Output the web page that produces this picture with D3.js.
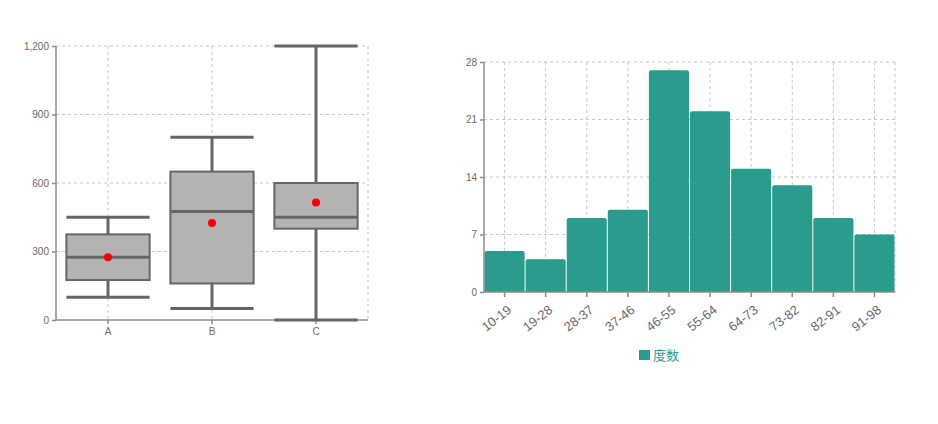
<!DOCTYPE html>
<html><head><meta charset="utf-8">
<script src="https://cdn.jsdelivr.net/npm/d3@7"></script>
<style>
html,body{margin:0;padding:0;background:#fff;}
svg{display:block;}
svg text{font-family:Arial,"Liberation Sans",sans-serif;}
</style></head>
<body>
<svg id="c" width="938" height="424"></svg>
<script>
// Box plot data
const boxCategories = ["A","B","C"];
const boxMin    = [100, 50, 0];
const boxQ1     = [175, 160, 400];
const boxMedian = [275, 475, 450];
const boxQ3     = [375, 650, 600];
const boxMax    = [450, 800, 1200];
const boxMean   = [275, 425, 515];
const boxYTicks = [0, 300, 600, 900, 1200];

// Histogram data
const histCategories = ["10-19","19-28","28-37","37-46","46-55","55-64","64-73","73-82","82-91","91-98"];
const histValues = [5, 4, 9, 10, 27, 22, 15, 13, 9, 7];
const histYTicks = [0, 7, 14, 21, 28];
const legendLabel = "度数";

const svg = d3.select("#c");
const teal = "#299c8e";
const gridColor = "#c8c8c8";
const axisColor = "#8c8c8c";
const labelColor = "#6a6a6a";

// ---------- Box plot ----------
{
  const L = 56, R = 368, T = 46, B = 320;
  const x = d3.scaleBand().domain(boxCategories).range([L, R]);
  const y = d3.scaleLinear().domain([0, 1200]).range([B, T]);
  const g = svg.append("g");
  g.selectAll(".hg").data(boxYTicks.filter(d => d > 0)).join("line")
    .attr("x1", L).attr("x2", R).attr("y1", d => y(d)).attr("y2", d => y(d))
    .attr("stroke", gridColor).attr("stroke-dasharray", "3,3");
  g.selectAll(".vg").data(boxCategories).join("line")
    .attr("x1", d => x(d) + x.bandwidth()/2).attr("x2", d => x(d) + x.bandwidth()/2)
    .attr("y1", T).attr("y2", B)
    .attr("stroke", gridColor).attr("stroke-dasharray", "3,3");
  g.append("line").attr("x1", R).attr("x2", R).attr("y1", T).attr("y2", B)
    .attr("stroke", gridColor).attr("stroke-dasharray", "3,3");
  const ya = g.append("g").attr("transform", `translate(${L},0)`)
    .call(d3.axisLeft(y).tickValues(boxYTicks).tickSize(4).tickPadding(3).tickFormat(d3.format(",")));
  const xa = g.append("g").attr("transform", `translate(0,${B})`)
    .call(d3.axisBottom(x).tickSize(4).tickPadding(4));
  [ya, xa].forEach(a => {
    a.attr("font-family", null);
    a.selectAll("path, line").attr("stroke", axisColor).attr("stroke-width", 1.5);
    a.selectAll("text").attr("fill", labelColor).style("font-size", "10px");
  });
  ya.select(".domain").attr("d", `M0,${T}V${B}`);
  xa.select(".domain").attr("d", `M${L},0H${R}`);
  const bw = x.bandwidth() * 0.8;
  const stroke = "#666666";
  boxCategories.forEach((c, i) => {
    const cx = x(c) + x.bandwidth()/2;
    const bg = g.append("g");
    bg.append("line").attr("x1", cx).attr("x2", cx).attr("y1", y(boxMax[i])).attr("y2", y(boxQ3[i]))
      .attr("stroke", stroke).attr("stroke-width", 3);
    bg.append("line").attr("x1", cx).attr("x2", cx).attr("y1", y(boxQ1[i])).attr("y2", y(boxMin[i]))
      .attr("stroke", stroke).attr("stroke-width", 3);
    [boxMax[i], boxMin[i]].forEach(v => {
      bg.append("line").attr("x1", cx - bw/2).attr("x2", cx + bw/2).attr("y1", y(v)).attr("y2", y(v))
        .attr("stroke", stroke).attr("stroke-width", 3);
    });
    bg.append("rect").attr("x", cx - bw/2).attr("width", bw)
      .attr("y", y(boxQ3[i])).attr("height", y(boxQ1[i]) - y(boxQ3[i]))
      .attr("fill", "#b3b3b3").attr("stroke", stroke).attr("stroke-width", 2);
    bg.append("line").attr("x1", cx - bw/2).attr("x2", cx + bw/2)
      .attr("y1", y(boxMedian[i])).attr("y2", y(boxMedian[i]))
      .attr("stroke", stroke).attr("stroke-width", 3);
    bg.append("circle").attr("cx", cx).attr("cy", y(boxMean[i])).attr("r", 4).attr("fill", "#ff0000");
  });
}

// ---------- Histogram ----------
{
  const L = 484, R = 895, T = 62, B = 292;
  const x = d3.scaleBand().domain(histCategories).range([L, R]).padding(0);
  const y = d3.scaleLinear().domain([0, 28]).range([B, T]);
  const g = svg.append("g");
  g.selectAll(".hg").data(histYTicks.filter(d => d > 0)).join("line")
    .attr("x1", L).attr("x2", R).attr("y1", d => y(d)).attr("y2", d => y(d))
    .attr("stroke", gridColor).attr("stroke-dasharray", "3,3");
  g.selectAll(".vg").data(histCategories).join("line")
    .attr("x1", d => x(d) + x.bandwidth()/2).attr("x2", d => x(d) + x.bandwidth()/2)
    .attr("y1", T).attr("y2", B)
    .attr("stroke", gridColor).attr("stroke-dasharray", "3,3");
  g.append("line").attr("x1", R).attr("x2", R).attr("y1", T).attr("y2", B)
    .attr("stroke", gridColor).attr("stroke-dasharray", "3,3");
  const r = 2;
  g.selectAll(".bar").data(histValues).join("path")
    .attr("d", (v, i) => {
      const x0 = x(histCategories[i]) + 0.5, x1 = x(histCategories[i]) + x.bandwidth() - 0.5;
      const yt = y(v), yb = y(0);
      return `M${x0},${yb}V${yt + r}Q${x0},${yt} ${x0 + r},${yt}H${x1 - r}Q${x1},${yt} ${x1},${yt + r}V${yb}Z`;
    })
    .attr("fill", teal);
  const ya = g.append("g").attr("transform", `translate(${L},0)`)
    .call(d3.axisLeft(y).tickValues(histYTicks).tickSize(4).tickPadding(3));
  const xa = g.append("g").attr("transform", `translate(0,${B})`)
    .call(d3.axisBottom(x).tickSize(5).tickPadding(3));
  [ya, xa].forEach(a => {
    a.attr("font-family", null);
    a.selectAll("path, line").attr("stroke", axisColor).attr("stroke-width", 1.5);
    a.selectAll("text").attr("fill", labelColor).style("font-size", "10px");
  });
  ya.select(".domain").attr("d", `M0,${T}V${B}`);
  xa.select(".domain").attr("d", `M${L},0H${R}`);
  xa.selectAll("text").style("font-size", "13px")
    .attr("text-anchor", "end")
    .attr("x", 0).attr("y", 0)
    .attr("dy", "0.35em")
    .attr("transform", "translate(5,16) rotate(-38)");
  const lg = svg.append("g");
  lg.append("rect").attr("x", 639).attr("y", 350).attr("width", 11).attr("height", 10).attr("fill", teal);
  lg.append("text").attr("x", 653).attr("y", 360).text(legendLabel)
    .attr("fill", teal).style("font-size", "13px")
    .style("font-family", "'Noto Sans CJK SC', sans-serif");
}
</script>
</body></html>
